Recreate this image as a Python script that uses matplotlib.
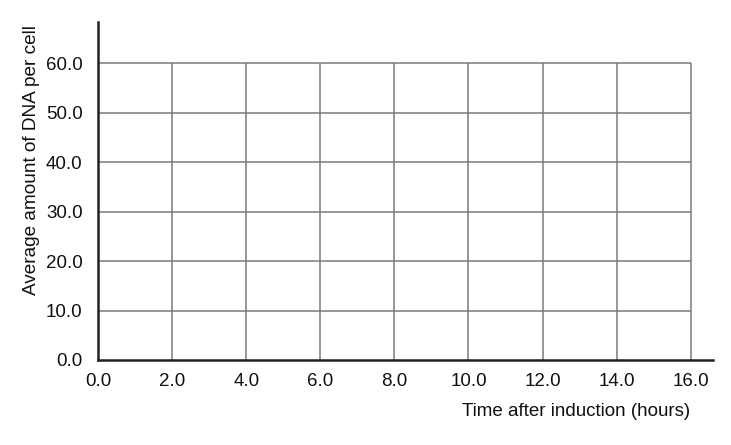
import matplotlib
matplotlib.use("Agg")
import matplotlib.pyplot as plt

plt.rcParams['font.family'] = ['Liberation Sans', 'DejaVu Sans']

x_ticks = [0, 2, 4, 6, 8, 10, 12, 14, 16]
y_ticks = [0, 10, 20, 30, 40, 50, 60]
x_labels = ["0.0", "2.0", "4.0", "6.0", "8.0", "10.0", "12.0", "14.0", "16.0"]
y_labels = ["0.0", "10.0", "20.0", "30.0", "40.0", "50.0", "60.0"]
x_title = "Time after induction (hours)"
y_title = "Average amount of DNA per cell"

W, H = 731, 445
fig = plt.figure(figsize=(W / 100, H / 100), dpi=100)
ax = fig.add_axes([98 / W, (H - 360) / H, (713 - 98) / W, (360 - 22) / H])

xmax, ymax = x_ticks[-1], y_ticks[-1]
grid_color = "#7a7a7a"
ax.hlines(y_ticks[1:], 0, xmax, color=grid_color, lw=1.1, zorder=1)
ax.vlines(x_ticks[1:], 0, ymax, color=grid_color, lw=1.1, zorder=1)

ax.set_xlim(0, 16.6)
ax.set_ylim(0, 68.3)
ax.set_xticks(x_ticks)
ax.set_xticklabels(x_labels)
ax.set_yticks(y_ticks)
ax.set_yticklabels(y_labels)
ax.tick_params(axis='both', length=0, labelsize=13.5, colors='#111111')
ax.tick_params(axis='y', pad=11)
ax.tick_params(axis='x', pad=9)

for s in ['top', 'right']:
    ax.spines[s].set_visible(False)
for s in ['left', 'bottom']:
    ax.spines[s].set_linewidth(1.8)
    ax.spines[s].set_color('#222222')

fig.text(32 / W, 1 - 160 / H, y_title, ha='center', va='center', rotation=90,
         fontsize=13.7, color='#111111')
fig.text(690 / W, 1 - 411 / H, x_title, ha='right', va='center', fontsize=13.5, color='#111111')

fig.savefig("out.png", dpi=100, facecolor='white')
